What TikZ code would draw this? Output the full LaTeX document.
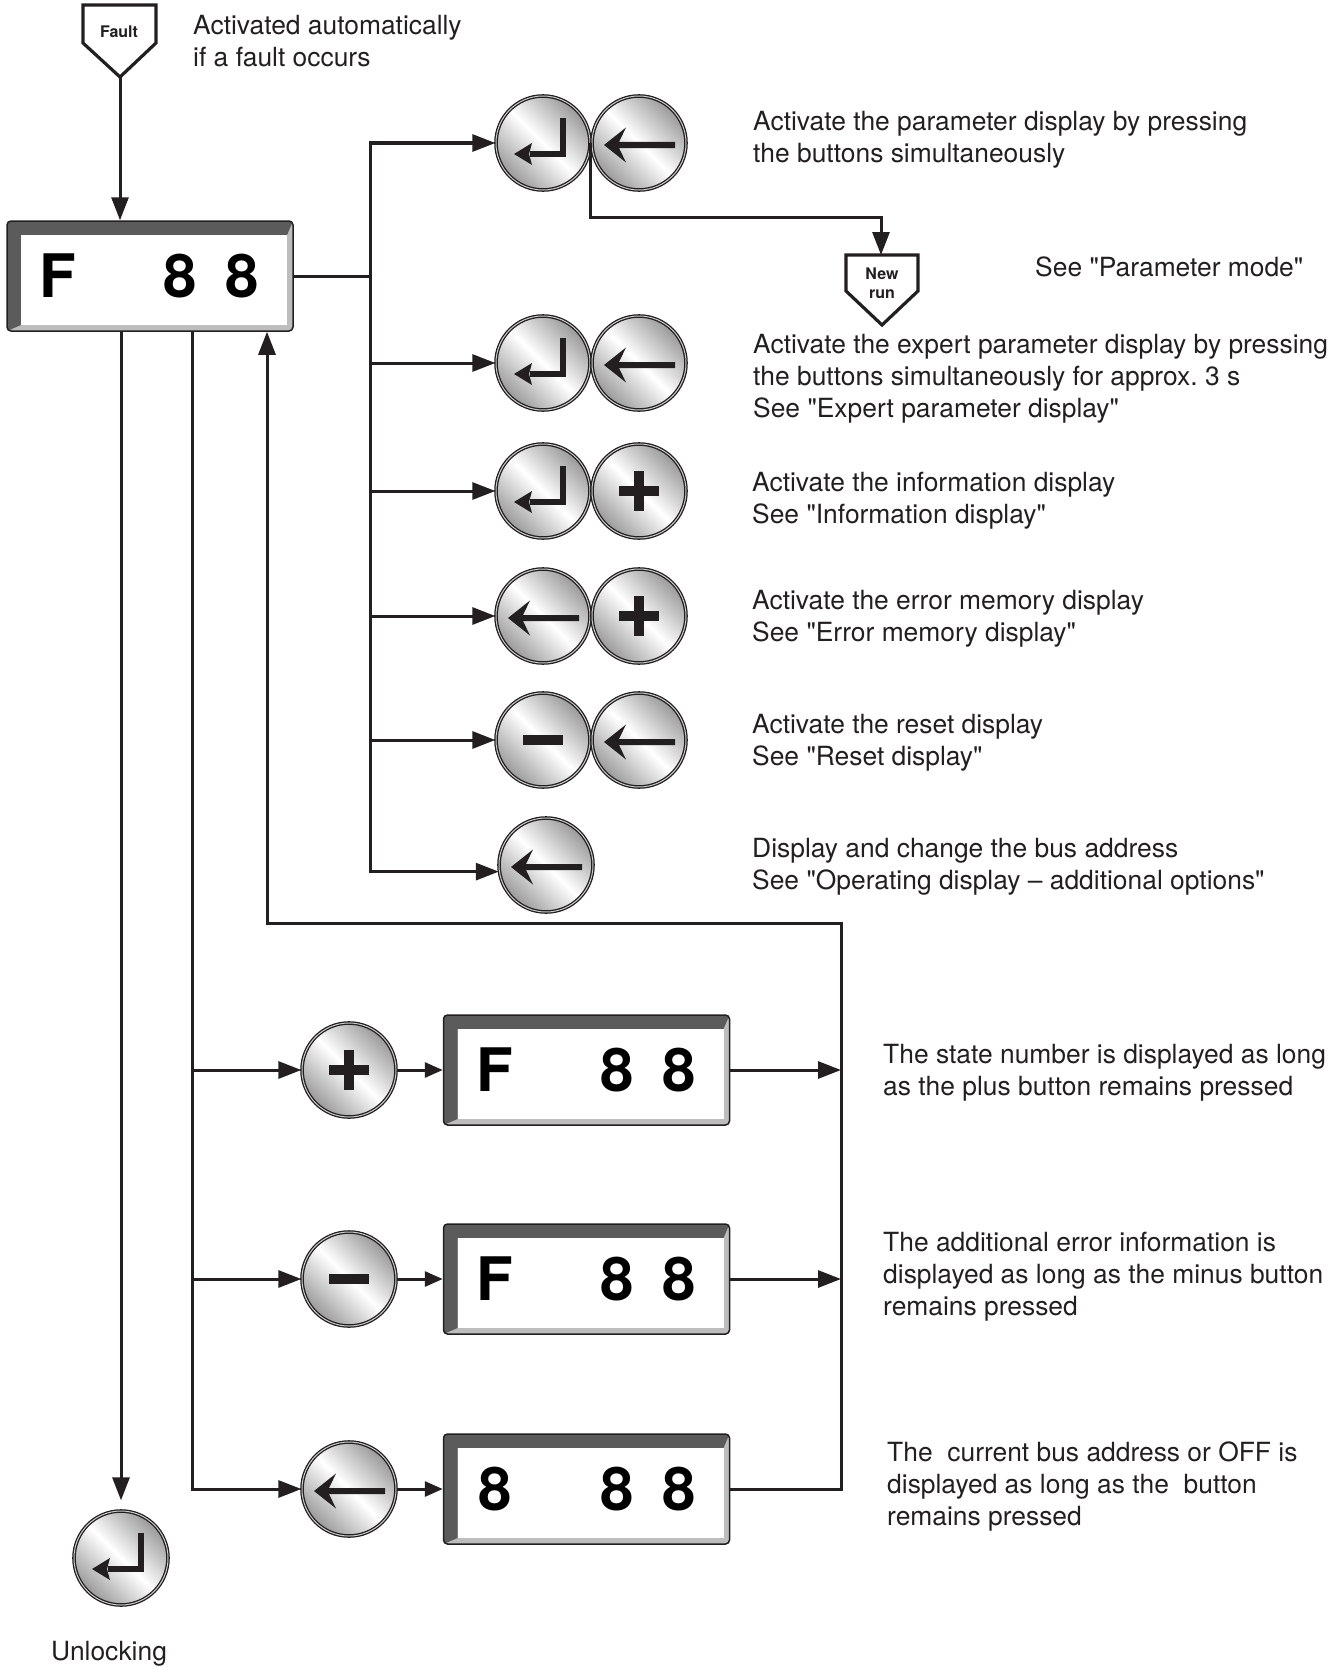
\documentclass[tikz,border=0pt]{standalone}
\usepackage{fontspec}
\setmainfont{TeX Gyre Heros}[Ligatures=TeXOff]
\usetikzlibrary{arrows.meta,calc}
\frenchspacing
\definecolor{ink}{HTML}{231F20}
\definecolor{bevel}{HTML}{5B5B5B}
\definecolor{rim}{HTML}{BDBDBD}
\definecolor{btnshade}{gray}{0.6}
\newcommand\iconEnter[1]{%
  \fill[ink] ($(#1)+(17pt,25pt)$) rectangle ($(#1)+(23pt,-14pt)$);
  \fill[ink] ($(#1)+(-13pt,-8pt)$) rectangle ($(#1)+(23pt,-14pt)$);
  \fill[ink] ($(#1)+(-29pt,-11pt)$) -- ($(#1)+(-11pt,0pt)$) -- ($(#1)+(-14pt,-11pt)$) -- ($(#1)+(-11pt,-22pt)$) -- cycle;}
\newcommand\iconLeft[1]{%
  \fill[ink] ($(#1)+(-35pt,-2pt)$) -- ($(#1)+(-13pt,15.5pt)$) -- ($(#1)+(-20pt,1pt)$) -- ($(#1)+(36pt,1pt)$) -- ($(#1)+(36pt,-5pt)$) -- ($(#1)+(-20pt,-5pt)$) -- ($(#1)+(-13pt,-19.5pt)$) -- cycle;}
\newcommand\iconPlus[1]{%
  \fill[ink] ($(#1)+(-20pt,5pt)$) rectangle ($(#1)+(20pt,-5pt)$);
  \fill[ink] ($(#1)+(-5pt,20pt)$) rectangle ($(#1)+(5pt,-20pt)$);}
\newcommand\iconMinus[1]{%
  \fill[ink] ($(#1)+(-20pt,5pt)$) rectangle ($(#1)+(20pt,-5pt)$);}
\newcommand\lcdDigits[2]{%
  \node[digit] (#1-a) at ($(#1.west)+(52pt,-21.5pt)$) {#2};
  \node[digit] (#1-b) at ($(#1.west)+(174pt,-21.5pt)$) {8};
  \node[digit] (#1-c) at ($(#1.west)+(236pt,-21.5pt)$) {8};}
\begin{document}
\begin{tikzpicture}[x=1pt,y=-1pt,
  conn/.style={draw=ink, line width=3pt},
  arr/.style={conn, -{Triangle[length=23pt,width=17pt]}},
  sarr/.style={conn, -{Triangle[length=18pt,width=15pt]}},
  btn/.style={circle, minimum size=94pt, inner sep=0pt, draw=ink, line width=1.3pt,
    double=gray!40, double distance=1pt,
    left color=btnshade, right color=btnshade, middle color=white, shading angle=-45},
  lcd/.style={rectangle, rounded corners=4pt, minimum width=286pt, minimum height=110pt,
    inner sep=0pt, draw=ink, line width=1.5pt, fill=rim,
    path picture={
      \fill[bevel, sharp corners] (path picture bounding box.north west)
        -- (path picture bounding box.north east)
        -- ([shift={(-6pt,-14pt)}]path picture bounding box.north east)
        -- ([shift={(14pt,-14pt)}]path picture bounding box.north west)
        -- ([shift={(14pt,6pt)}]path picture bounding box.south west)
        -- (path picture bounding box.south west) -- cycle;
      \fill[white, sharp corners] ([shift={(14pt,-14pt)}]path picture bounding box.north west)
        rectangle ([shift={(-6pt,6pt)}]path picture bounding box.south east);
    }},
  digit/.style={font=\fontsize{60pt}{60pt}\selectfont\bfseries, text=black, inner sep=0pt, anchor=base},
  txt/.style={font=\fontsize{26.4pt}{32pt}\selectfont, text=ink, align=left, anchor=base west, inner sep=0pt},
  pent/.style={draw=ink, line width=3.2pt, fill=white, line join=miter},
  penttxt/.style={font=\fontsize{16pt}{19pt}\selectfont\bfseries, text=ink, align=center, inner sep=0pt}
]
\useasboundingbox (0,0) rectangle (1338,1667);

% Fault entry
\draw[pent] (83,5) -- (156,5) -- (156,43) -- (120,77) -- (83,43) -- cycle;
\node[penttxt] (fault) at (119,32) {Fault};
\coordinate (faultTip) at (120,77);
\node[txt] (t0) at (193,67) {Activated automatically\\if a fault occurs};

% main display
\node[lcd] (disp) at (150,276) {};
\lcdDigits{disp}{F}
\draw[arr] (faultTip) -- (faultTip |- disp.north);

% button rows
\node[btn] (b1L) at (543,143) {}; \node[btn] (b1R) at (639,143) {};
\iconEnter{b1L} \iconLeft{b1R}
\node[btn] (b2L) at (543,363) {}; \node[btn] (b2R) at (639,363) {};
\iconEnter{b2L} \iconLeft{b2R}
\node[btn] (b3L) at (543,491) {}; \node[btn] (b3R) at (639,491) {};
\iconEnter{b3L} \iconPlus{b3R}
\node[btn] (b4L) at (543,616) {}; \node[btn] (b4R) at (639,616) {};
\iconLeft{b4L} \iconPlus{b4R}
\node[btn] (b5L) at (543,740) {}; \node[btn] (b5R) at (639,740) {};
\iconMinus{b5L} \iconLeft{b5R}
\node[btn] (b6L) at (546,865) {};
\iconLeft{b6L}

% bus
\coordinate (busX) at (370,0);
\draw[conn] (disp.east) -- (busX |- disp.east);
\draw[conn, {Triangle[length=23pt,width=17pt]}-{Triangle[length=23pt,width=17pt]}]
  (b1L.west) -- (busX |- b1L.west) -- (busX |- b6L.188) -- (b6L.188);
\foreach \r in {2,3,4,5} {\draw[arr] (busX |- b\r L.west) -- (b\r L.west);}

% new run
\draw[pent] (846,255) -- (918,255) -- (918,291) -- (882,325) -- (846,291) -- cycle;
\node[penttxt] (newrun) at (882,283) {New\\run};
\coordinate (nrTop) at (881,255);
\draw[arr] (b1L.east) -- ++(0,74) -| (nrTop);

% texts right (anchor = baseline of last line)
\node[txt] (t1) at (753,162) {Activate the parameter display by pressing\\the buttons simultaneously};
\node[txt] (t1b) at (1035,276) {See "Parameter mode"};
\node[txt] (t2) at (753,417) {Activate the expert parameter display by pressing\\the buttons simultaneously for approx. 3 s\\See "Expert parameter display"};
\node[txt] (t3) at (752,523) {Activate the information display\\See "Information display"};
\node[txt] (t4) at (752,641) {Activate the error memory display\\See "Error memory display"};
\node[txt] (t5) at (752,765) {Activate the reset display\\See "Reset display"};
\node[txt] (t6) at (752,889) {Display and change the bus address\\See "Operating display – additional options"};

% lower part
\node[btn] (p1) at (349,1070) {}; \iconPlus{p1}
\node[btn] (p2) at (349,1279) {}; \iconMinus{p2}
\node[btn] (p3) at (349,1489) {}; \iconLeft{p3}
\node[lcd] (d1) at (586.5,1070) {}; \lcdDigits{d1}{F}
\node[lcd] (d2) at (586.5,1279) {}; \lcdDigits{d2}{F}
\node[lcd] (d3) at (586.5,1489) {}; \lcdDigits{d3}{8}

\coordinate (lbX) at (192,0);
\draw[arr] (lbX |- disp.south) -- (lbX |- p3.west) -- (p3.west);
\draw[arr] (lbX |- p1.west) -- (p1.west);
\draw[arr] (lbX |- p2.west) -- (p2.west);
\draw[sarr] (p1.east) -- (d1.west);
\draw[sarr] (p2.east) -- (d2.west);
\draw[sarr] (p3.east) -- (d3.west);

\coordinate (loopX) at (841,0);
\coordinate (retC) at (267,923);
\draw[arr] (d1.east) -- (loopX |- d1.east);
\draw[arr] (d2.east) -- (loopX |- d2.east);
\draw[arr] (d3.east) -- (loopX |- d3.east) -- (loopX |- retC) -- (retC) -- (retC |- disp.south);

\node[txt] (t7) at (883,1095) {The state number is displayed as long\\as the plus button remains pressed};
\node[txt] (t8) at (883,1315) {The additional error information is\\displayed as long as the minus button\\remains pressed};
\node[txt] (t9) at (887,1525) {The~ current bus address or OFF is\\displayed as long as the~ button\\remains pressed};

% unlocking
\node[btn] (unl) at (121,1558) {}; \iconEnter{unl}
\draw[arr, shorten >=10pt] (unl.north |- disp.south) -- (unl.north);
\node[txt, anchor=base] (unlt) at (109,1660) {Unlocking};
\end{tikzpicture}
\end{document}
